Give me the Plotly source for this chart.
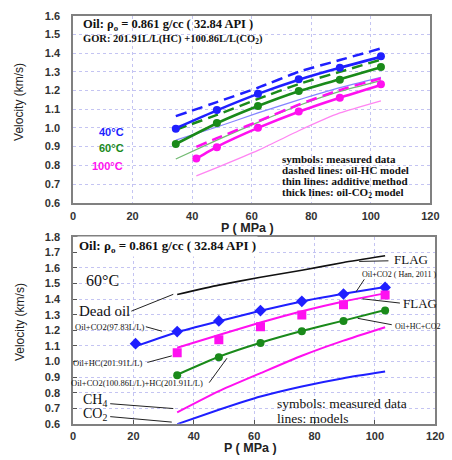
import plotly.graph_objects as go

# ---------------- top panel data ----------------
P_top = [34.5, 48.3, 62.1, 75.8, 89.6, 103.4]
P_top_100 = [41.4, 48.3, 62.1, 75.8, 89.6, 103.4]

meas_40 = [0.996, 1.096, 1.183, 1.261, 1.322, 1.383]
meas_60 = [0.914, 1.027, 1.117, 1.197, 1.258, 1.326]
meas_100 = [0.836, 0.897, 1.001, 1.088, 1.161, 1.233]

co2_40 = [0.998, 1.094, 1.182, 1.258, 1.322, 1.380]
co2_60 = [0.914, 1.025, 1.117, 1.196, 1.260, 1.324]
co2_100 = [0.836, 0.899, 1.000, 1.087, 1.162, 1.230]

hc_40 = [1.063, 1.138, 1.215, 1.300, 1.363, 1.425]
hc_60 = [0.990, 1.070, 1.155, 1.235, 1.300, 1.365]
hc_100 = [0.899, 0.945, 1.035, 1.125, 1.203, 1.265]

add_40 = [0.935, 1.005, 1.080, 1.150, 1.215, 1.270]
add_60 = [0.834, 0.935, 1.030, 1.120, 1.195, 1.253]
add_100 = [0.744, 0.788, 0.880, 0.985, 1.080, 1.145]

# ---------------- bottom panel data ----------------
P_bot7 = [20.7, 34.5, 48.3, 62.1, 75.8, 89.6, 103.4]
P_bot6 = [34.5, 48.3, 62.1, 75.8, 89.6, 103.4]
P_han_line = [21.5, 34.5, 48.3, 62.1, 75.8, 89.6, 103.4]

meas_oil_co2 = [1.114, 1.192, 1.260, 1.327, 1.386, 1.433, 1.475]
meas_oil_hc = [1.056, 1.140, 1.223, 1.298, 1.364, 1.427]
meas_oil_hc_co2 = [0.911, 1.027, 1.119, 1.194, 1.260, 1.327]

line_han = [1.103, 1.188, 1.258, 1.325, 1.385, 1.434, 1.478]
line_flag_hc = [1.088, 1.170, 1.250, 1.322, 1.385, 1.437]
line_flag_hc_co2 = [0.915, 1.030, 1.120, 1.195, 1.262, 1.330]
line_dead_oil = [1.430, 1.490, 1.540, 1.585, 1.635, 1.678]
line_ch4 = [0.674, 0.810, 0.925, 1.037, 1.134, 1.220]
line_co2 = [0.598, 0.690, 0.775, 0.840, 0.893, 0.935]

BLUE = '#1f1fff'
GREEN = '#1a8a1a'
MAG = '#ff10f0'
BLUE_T = '#8585ff'
GREEN_T = '#74bb74'
MAG_T = '#ff85f2'

SERIF = 'Liberation Serif'
SANS = 'Liberation Sans'

fig = go.Figure()


def line(x, y, color, width, dash='solid', xa='x', ya='y'):
    fig.add_trace(go.Scatter(x=x, y=y, mode='lines', xaxis=xa, yaxis=ya,
                             line=dict(color=color, width=width, dash=dash, shape='spline', smoothing=0.5),
                             showlegend=False, hoverinfo='skip'))


def pts(x, y, color, symbol, size, xa='x', ya='y'):
    fig.add_trace(go.Scatter(x=x, y=y, mode='markers', xaxis=xa, yaxis=ya,
                             marker=dict(color=color, symbol=symbol, size=size, line=dict(width=0)),
                             showlegend=False, hoverinfo='skip'))


# top: thin lines (additive)
line(P_top, add_40, BLUE_T, 1.3)
line(P_top, add_60, GREEN_T, 1.3)
line(P_top_100, add_100, MAG_T, 1.3)
# dashed lines (oil-HC)
DASH = '11px,6px'
line(P_top, hc_40, BLUE, 2.5, DASH)
line(P_top, hc_60, GREEN, 2.5, DASH)
line(P_top_100, hc_100, MAG, 2.5, DASH)
# thick lines (oil-CO2)
line(P_top, co2_40, BLUE, 2.6)
line(P_top, co2_60, GREEN, 2.6)
line(P_top_100, co2_100, MAG, 2.6)
# symbols
pts(P_top, meas_40, BLUE, 'circle', 8)
pts(P_top, meas_60, GREEN, 'circle', 8)
pts(P_top_100, meas_100, MAG, 'circle', 8)

# bottom panel
line(P_bot6, line_dead_oil, '#111111', 1.6, xa='x2', ya='y2')
line(P_han_line, line_han, BLUE, 2.0, xa='x2', ya='y2')
line(P_bot6, line_flag_hc, MAG, 2.0, xa='x2', ya='y2')
line(P_bot6, line_flag_hc_co2, GREEN, 2.0, xa='x2', ya='y2')
line(P_bot6, line_ch4, MAG, 2.0, xa='x2', ya='y2')
line(P_bot6, line_co2, BLUE, 2.0, xa='x2', ya='y2')
pts(P_bot7, meas_oil_co2, BLUE, 'diamond', 9, xa='x2', ya='y2')
pts(P_bot6, meas_oil_hc, MAG, 'square', 9, xa='x2', ya='y2')
pts(P_bot6, meas_oil_hc_co2, GREEN, 'circle', 8, xa='x2', ya='y2')

W, H = 452, 460


def px_x(p):
    return p / W


def px_y(p):
    return 1 - p / H


axis_common = dict(showgrid=True, gridcolor='#c4c4f2', griddash='dot', gridwidth=1,
                   showline=True, linecolor='#808080', linewidth=1.5, mirror=True,
                   zeroline=False,
                   tickfont=dict(family=SANS, size=11, color='#333333', weight='bold'))

fig.update_layout(
    width=W, height=H, margin=dict(l=0, r=0, t=0, b=0),
    paper_bgcolor='white', plot_bgcolor='white', showlegend=False,
    xaxis=dict(domain=[px_x(72), px_x(439)], anchor='y', range=[0, 120], dtick=20,
               ticks='', ticklabelstandoff=2, **axis_common),
    yaxis=dict(domain=[px_y(202), px_y(10)], anchor='x', range=[0.6, 1.6], dtick=0.1, tickformat='.1f',
               ticks='', ticklabelstandoff=9, **axis_common),
    xaxis2=dict(domain=[px_x(72), px_x(444)], anchor='y2', range=[0, 120], dtick=20,
                ticks='inside', ticklen=4, tickcolor='#555555', ticklabelstandoff=1, **axis_common),
    yaxis2=dict(domain=[px_y(429), px_y(237)], anchor='x2', range=[0.6, 1.8], dtick=0.1, tickformat='.1f',
                ticks='inside', ticklen=4, tickcolor='#555555', ticklabelstandoff=9, **axis_common),
)

ann = []


def txt(x, y, text, size, color='#111111', family=SERIF, bold=False, xanchor='left', xref='x', yref='y',
        angle=0, bg=None):
    d = dict(x=x, y=y, text=text, xref=xref, yref=yref, showarrow=False, xanchor=xanchor, yanchor='middle',
             textangle=angle, font=dict(family=family, size=size, color=color, weight='bold' if bold else 'normal'))
    if bg:
        d['bgcolor'] = bg
        d['borderpad'] = 1
    ann.append(d)


# axis titles
txt(px_x(17), px_y(99), 'Velocity (km/s)', 12, '#222222', SANS, False, 'center', 'paper', 'paper', -90)
txt(px_x(17), px_y(325), 'Velocity (km/s)', 12, '#222222', SANS, False, 'center', 'paper', 'paper', -90)
txt(px_x(251), px_y(228), 'P ( MPa )', 12.5, '#222222', SANS, True, 'center', 'paper', 'paper')
txt(px_x(254), px_y(454), 'P ( MPa )', 12.5, '#222222', SANS, True, 'center', 'paper', 'paper')

# top panel texts
txt(2.6, 1.550, 'Oil: ρ<sub>o</sub> = 0.861 g/cc ( 32.84 API )', 12.5, '#111111', SERIF, True)
txt(2.6, 1.472, 'GOR: 201.91L/L(HC) +100.86L/L(CO<sub>2</sub>)', 10.5, '#111111', SERIF, True)
txt(13, 0.98, '40°C', 11, BLUE, SANS, True, 'center')
txt(13, 0.893, '60°C', 11, GREEN, SANS, True, 'center')
txt(11.5, 0.798, '100°C', 11, MAG, SANS, True, 'center')
for yv, s in zip([0.834, 0.775, 0.714, 0.652],
                 ['symbols: measured data', 'dashed lines: oil-HC model',
                  'thin lines: additive method', 'thick lines: oil-CO<sub>2</sub> model']):
    txt(69.6, yv, s, 11, '#111111', SERIF, True)

# bottom panel texts
X2, Y2 = 'x2', 'y2'
txt(1.3, 1.736, 'Oil: ρ<sub>o</sub> = 0.861 g/cc ( 32.84 API )', 13, '#111111', SERIF, True, 'left', X2, Y2, bg='white')
txt(9.6, 1.517, '60°C', 16, '#111111', SERIF, False, 'center', X2, Y2)
txt(19.4, 1.323, 'Dead oil', 15, '#111111', SERIF, False, 'right', X2, Y2)
txt(24.0, 1.223, 'Oil+CO2(97.83L/L)', 8.5, '#111111', SERIF, False, 'right', X2, Y2)
txt(23.5, 0.992, 'Oil+HC(201.91L/L)', 8.5, '#111111', SERIF, False, 'right', X2, Y2)
txt(43.6, 0.862, 'Oil+CO2(100.86L/L)+HC(201.91L/L)', 8.5, '#111111', SERIF, False, 'right', X2, Y2)
txt(2.6, 0.752, 'CH<sub>4</sub>', 14, '#111111', SERIF, False, 'left', X2, Y2)
txt(2.6, 0.659, 'CO<sub>2</sub>', 14, '#111111', SERIF, False, 'left', X2, Y2)
txt(105.6, 1.652, 'FLAG', 13, '#111111', SERIF, False, 'left', X2, Y2)
txt(95.2, 1.556, 'Oil+CO2 ( Han, 2011 )', 8, '#111111', SERIF, False, 'left', X2, Y2)
txt(108.6, 1.369, 'FLAG', 13, '#111111', SERIF, False, 'left', X2, Y2)
txt(106.1, 1.225, 'Oil+HC+CO2', 8, '#111111', SERIF, False, 'left', X2, Y2)
txt(66.9, 0.728, 'symbols: measured data', 13.5, '#111111', SERIF, False, 'left', X2, Y2)
txt(66.9, 0.637, 'lines: models', 13.5, '#111111', SERIF, False, 'left', X2, Y2)

fig.update_layout(annotations=ann)

# leader lines of the text labels (bottom panel)
leaders = [
    ((19.3, 1.323), (33.2, 1.431)),
    ((24.1, 1.223), (29.5, 1.194)),
    ((24.6, 0.994), (32.7, 1.036)),
    ((45.1, 0.864), (51.0, 1.021)),
    ((12.3, 0.729), (33.2, 0.698)),
    ((12.3, 0.646), (32.7, 0.611)),
    ((94.8, 1.642), (104.5, 1.646)),
    ((96.5, 1.527), (93.8, 1.448)),
    ((95.9, 1.402), (108.3, 1.375)),
    ((94.3, 1.277), (105.6, 1.236)),
]
for (x0, y0), (x1, y1) in leaders:
    fig.add_shape(type='line', xref='x2', yref='y2', x0=x0, y0=y0, x1=x1, y1=y1,
                  line=dict(color='#222222', width=1))

fig.write_html('out.html', config={'displayModeBar': False},
               post_script="document.body.style.margin='0px';")
